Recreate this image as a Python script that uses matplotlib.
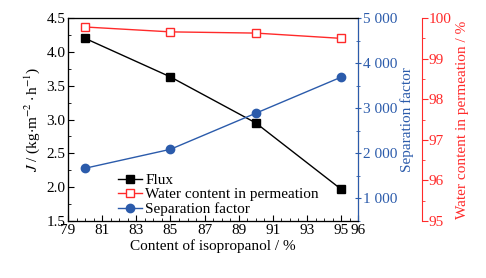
import matplotlib
matplotlib.use("Agg")
import matplotlib.pyplot as plt
from matplotlib.ticker import MultipleLocator, FixedLocator, FuncFormatter

plt.rcParams["font.family"] = "Liberation Serif"
plt.rcParams["mathtext.fontset"] = "stix"
plt.rcParams["font.size"] = 11

# data
content = [80, 85, 90, 95]
flux = [4.20, 3.63, 2.95, 1.97]
water = [99.78, 99.66, 99.63, 99.50]
sep_factor = [1670, 2090, 2890, 3690]

BLUE = "#2b5bab"
RED = "#ff2a2a"

fig = plt.figure(figsize=(4.86, 2.78), dpi=100)
ax = fig.add_axes([0.14, 0.205, 0.597, 0.73])

l1, = ax.plot(content, flux, color="black", marker="s", ms=6, lw=1, label="Flux")
ax.set_xlim(79, 96)
ax.set_ylim(1.5, 4.5)
ax.xaxis.set_major_locator(FixedLocator([79, 81, 83, 85, 87, 89, 91, 93, 95, 96]))
ax.xaxis.set_minor_locator(MultipleLocator(0.5))
ax.yaxis.set_major_locator(MultipleLocator(0.5))
ax.yaxis.set_minor_locator(MultipleLocator(0.25))
ax.yaxis.set_major_formatter(FuncFormatter(lambda v, p: f"{v:.1f}"))
ax.tick_params(which="both", direction="in", top=False, right=False, labelsize=11, pad=2)
ax.tick_params(which="major", length=4)
ax.tick_params(which="minor", length=2.5)
ax.set_xlabel("Content of isopropanol / %", fontsize=11, labelpad=2)
ax.set_ylabel(r"$J$ / (kg$\cdot$m$^{-2}\cdot$h$^{-1}$)", fontsize=11, labelpad=3)

# separation factor axis
ax2 = ax.twinx()
l3, = ax2.plot(content, sep_factor, color=BLUE, marker="o", ms=6, lw=1, label="Separation factor")
ax2.set_ylim(500, 5000)
ax2.yaxis.set_major_locator(MultipleLocator(1000))
ax2.yaxis.set_minor_locator(MultipleLocator(500))
ax2.yaxis.set_major_formatter(FuncFormatter(lambda v, p: f"{int(v):,}".replace(",", " ")))
ax2.tick_params(which="both", direction="inout", colors=BLUE, labelsize=11, pad=1)
ax2.tick_params(which="major", length=5)
ax2.tick_params(which="minor", length=3)
ax2.spines["right"].set_color(BLUE)
ax2.set_ylabel("Separation factor", color=BLUE, fontsize=11, labelpad=2)

# water content axis
ax3 = ax.twinx()
ax3.spines["right"].set_position(("axes", 1.22))
l2, = ax3.plot(content, water, color=RED, marker="s", ms=6, mfc="white", lw=1,
               label="Water content in permeation")
ax3.set_ylim(95, 100)
ax3.yaxis.set_major_locator(MultipleLocator(1))
ax3.yaxis.set_minor_locator(MultipleLocator(0.5))
ax3.tick_params(which="both", direction="out", colors=RED, labelsize=11, pad=1)
ax3.tick_params(which="major", length=4)
ax3.tick_params(which="minor", length=2.5)
ax3.spines["right"].set_color(RED)
ax3.set_ylabel("Water content in permeation / %", color=RED, fontsize=11, labelpad=3)

ax.legend(handles=[l1, l2, l3], loc="lower left", bbox_to_anchor=(0.14, -0.02),
          frameon=False, fontsize=11, handlelength=1.6, handletextpad=0.2,
          labelspacing=0.05, borderaxespad=0.2)

fig.savefig("out.png", dpi=100)
